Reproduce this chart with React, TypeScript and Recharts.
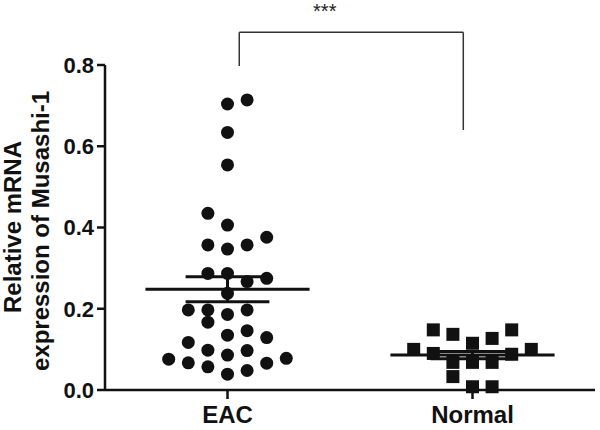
import React from 'react';
import { ScatterChart, Scatter, XAxis, YAxis, ReferenceLine, ReferenceDot } from 'recharts';

const categories = ['EAC', 'Normal'];
const categoryCenters = [0.5, 1.5];

// Values; cols = horizontal column of each dot (jitter)
const eacValues = [0.704, 0.714, 0.634, 0.554, 0.435, 0.406, 0.357, 0.347, 0.357, 0.376, 0.287, 0.287, 0.267, 0.275, 0.238, 0.197, 0.197, 0.186, 0.197, 0.167, 0.135, 0.146, 0.117, 0.129, 0.098, 0.086, 0.097, 0.076, 0.067, 0.057, 0.066, 0.078, 0.039, 0.048];
const eacCols = [0, 1, 0, 0, -1, 0, -1, 0, 1, 2, -1, 0, 1, 2, 0, -2, -1, 0, 1, -1, 0, 1, -2, 2, -1, 0, 1, -3, -2, -1, 2, 3, 0, 1];

const normalValues = [0.148, 0.137, 0.115, 0.127, 0.148, 0.100, 0.100, 0.090, 0.068, 0.068, 0.068, 0.088, 0.033, 0.008, 0.008];
const normalCols = [-2, -1, 0, 1, 2, -3, 3, -2, -1, 0, 1, 2, -1, 0, 1];

// Mean and SEM
const means = [0.248, 0.086];
const sems = [0.031, 0.009];

const yTicks = [0, 0.2, 0.4, 0.6, 0.8];

// significance bracket: [x, y] in data units
const bracket = [
  [0.548, 0.7975],
  [0.548, 0.8805],
  [1.4624, 0.8805],
  [1.4624, 0.64],
];
const sigLabel = '***';
const sigLabelPos = [0.897, 0.8805];

const COL_STEP = 0.08;
const MEAN_HALF = 0.335;
const CAP_HALF = 0.171;

const eacData = eacValues.map((v, i) => ({ x: categoryCenters[0] + eacCols[i] * COL_STEP, y: v }));
const normalData = normalValues.map((v, i) => ({ x: categoryCenters[1] + normalCols[i] * COL_STEP, y: v }));

const FONT = '"Liberation Sans", Arial, sans-serif';

const Circle = (p: any) => <circle cx={p.cx} cy={p.cy} r={6.5} fill="#111" />;
const Square = (p: any) => <rect x={p.cx - 6.5} y={p.cy - 6.5} width={13} height={13} fill="#111" />;

export default function App() {
  return (
    <div style={{ position: 'absolute', left: 0, top: 0, width: 600, height: 430, background: '#fff' }}>
      <ScatterChart width={600} height={430} margin={{ top: 65, right: 5, bottom: 0, left: 0 }}>
        <XAxis
          type="number"
          dataKey="x"
          domain={[0, 2]}
          ticks={categoryCenters}
          tickFormatter={(v: number) => categories[categoryCenters.indexOf(v)]}
          axisLine={{ stroke: '#111', strokeWidth: 2.5 }}
          tickLine={{ stroke: '#111', strokeWidth: 2.5 }}
          tickSize={9}
          tickMargin={7}
          height={40}
          tick={{ fill: '#111', fontSize: 24, fontWeight: 'bold', fontFamily: FONT }}
        />
        <YAxis
          type="number"
          dataKey="y"
          domain={[0, 0.8]}
          ticks={yTicks}
          tickFormatter={(v: number) => v.toFixed(1)}
          axisLine={{ stroke: '#111', strokeWidth: 2.5 }}
          tickLine={{ stroke: '#111', strokeWidth: 2.5 }}
          tickSize={8}
          tickMargin={3}
          width={105}
          tick={{ fill: '#111', fontSize: 22, fontWeight: 'bold', fontFamily: FONT }}
        />
        <Scatter data={eacData} shape={Circle} isAnimationActive={false} />
        <Scatter data={normalData} shape={Square} isAnimationActive={false} />
        {categoryCenters.map((c, i) => (
          <ReferenceLine key={'m' + i} segment={[{ x: c - MEAN_HALF, y: means[i] }, { x: c + MEAN_HALF, y: means[i] }]} stroke="#111" strokeWidth={3} ifOverflow="visible" />
        ))}
        {categoryCenters.map((c, i) => (
          <ReferenceLine key={'u' + i} segment={[{ x: c - CAP_HALF, y: means[i] + sems[i] }, { x: c + CAP_HALF, y: means[i] + sems[i] }]} stroke="#111" strokeWidth={3} ifOverflow="visible" />
        ))}
        {categoryCenters.map((c, i) => (
          <ReferenceLine key={'l' + i} segment={[{ x: c - CAP_HALF, y: means[i] - sems[i] }, { x: c + CAP_HALF, y: means[i] - sems[i] }]} stroke="#111" strokeWidth={3} ifOverflow="visible" />
        ))}
        {categoryCenters.map((c, i) => (
          <ReferenceLine key={'v' + i} segment={[{ x: c, y: means[i] - sems[i] }, { x: c, y: means[i] + sems[i] }]} stroke="#111" strokeWidth={3} ifOverflow="visible" />
        ))}
        {bracket.slice(0, -1).map((p, i) => (
          <ReferenceLine
            key={'b' + i}
            segment={[{ x: p[0], y: p[1] }, { x: bracket[i + 1][0], y: bracket[i + 1][1] }]}
            stroke="#333"
            strokeWidth={1.5}
            ifOverflow="visible"
          />
        ))}
        <ReferenceDot
          x={sigLabelPos[0]}
          y={sigLabelPos[1]}
          r={0}
          fill="none"
          stroke="none"
          ifOverflow="visible"
          label={{ value: sigLabel, position: 'top', offset: 14, fill: '#222', fontSize: 20, fontFamily: FONT }}
        />
        <text transform="translate(21,227) rotate(-90)" textAnchor="middle" fontSize={24} fontWeight="bold" fontFamily={FONT} fill="#111">Relative mRNA</text>
        <text transform="translate(49,231) rotate(-90)" textAnchor="middle" fontSize={24} fontWeight="bold" fontFamily={FONT} fill="#111">expression of Musashi-1</text>
      </ScatterChart>
    </div>
  );
}
